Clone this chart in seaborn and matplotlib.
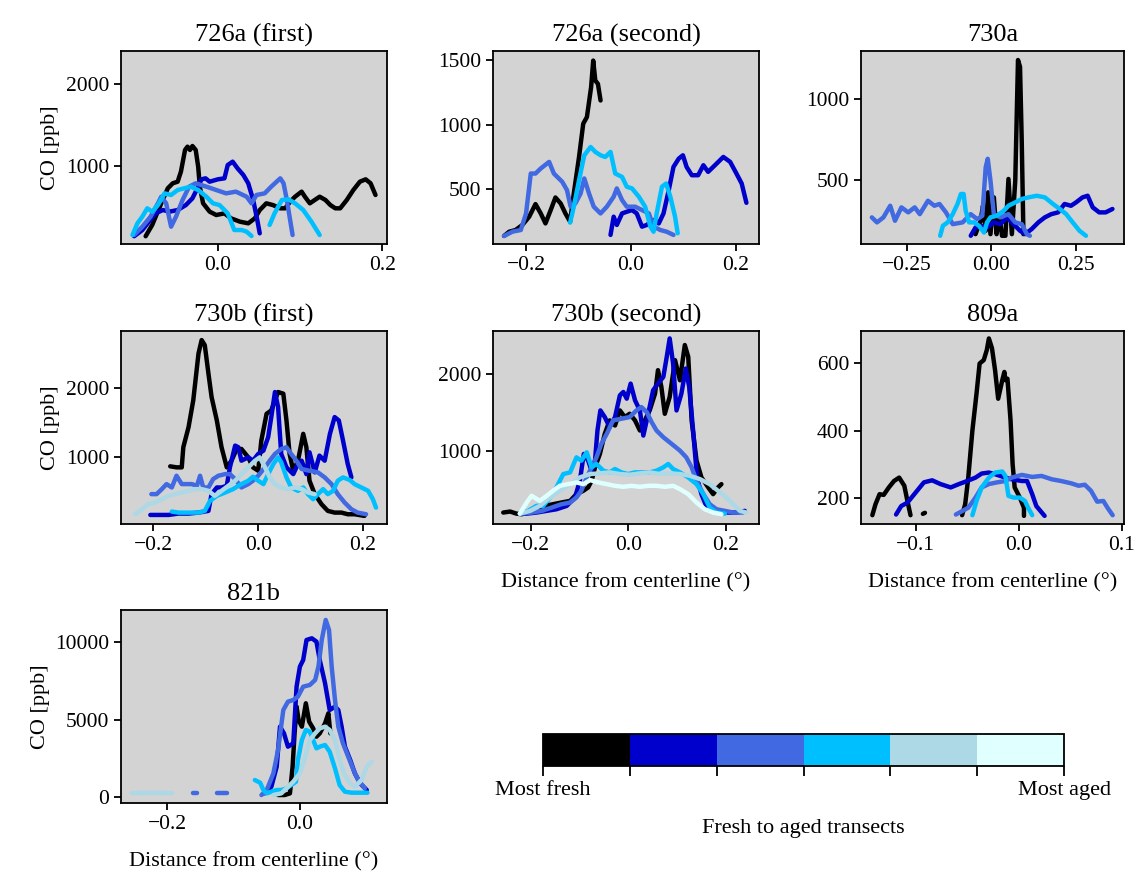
import numpy as np
import pandas as pd
import matplotlib
matplotlib.use("Agg")
import matplotlib.pyplot as plt
from matplotlib.colors import ListedColormap, BoundaryNorm
from matplotlib.cm import ScalarMappable
import seaborn as sns

# ---------------------------------------------------------------------------
# Transect colours, freshest to most aged
transect_colors = ["black", "mediumblue", "royalblue", "deepskyblue", "lightblue", "lightcyan"]
colorbar_ticklabels = ["Most fresh", "", "", "", "", "", "Most aged"]

N = None  # gap between separate pieces of a transect

# ---- 726a (first) ---------------------------------------------------------
f726a1_t0_x = [-0.088, -0.080, -0.069, -0.061, -0.055, -0.049, -0.045, -0.040, -0.037, -0.034, -0.031, -0.027, -0.024, -0.022, -0.018, -0.010, -0.002, 0.008, 0.016, 0.027, 0.037, 0.045, 0.051, 0.059, 0.067, 0.076, 0.082, 0.088, 0.094, 0.102, 0.106, 0.112, 0.118, 0.124, 0.131, 0.137, 0.143, 0.149, 0.157, 0.165, 0.173, 0.180, 0.186, 0.192]
f726a1_t0_y = [140, 278, 543, 727, 788, 808, 931, 1196, 1237, 1196, 1245, 1196, 992, 747, 543, 441, 400, 420, 359, 318, 298, 359, 461, 543, 522, 482, 482, 563, 624, 686, 624, 543, 584, 624, 584, 522, 482, 482, 584, 706, 808, 837, 788, 645]
f726a1_t1_x = [-0.102, -0.092, -0.084, -0.076, -0.067, -0.059, -0.049, -0.039, -0.031, -0.024, -0.020, -0.015, -0.010, 0.000, 0.008, 0.012, 0.018, 0.024, 0.031, 0.037, 0.043, 0.048, 0.051]
f726a1_t1_y = [140, 216, 318, 420, 461, 441, 461, 522, 604, 747, 837, 849, 808, 837, 849, 1012, 1053, 971, 890, 788, 584, 339, 176]
f726a1_t2_x = [-0.102, -0.092, -0.082, -0.073, -0.069, -0.063, -0.057, -0.051, -0.043, -0.035, -0.027, -0.014, -0.002, 0.010, 0.022, 0.035, 0.041, 0.047, 0.057, 0.065, 0.076, 0.080, 0.084, 0.088, 0.091]
f726a1_t2_y = [155, 257, 380, 543, 624, 543, 257, 380, 584, 747, 788, 747, 706, 665, 686, 624, 543, 645, 665, 747, 849, 788, 584, 339, 155]
f726a1_t3_x = [-0.104, -0.098, -0.092, -0.086, -0.080, -0.073, -0.065, -0.057, -0.049, -0.041, -0.033, -0.024, -0.014, -0.006, 0.002, 0.012, 0.020, 0.029, 0.035, 0.041, N, 0.063, 0.069, 0.078, 0.086, 0.094, 0.104, 0.114, 0.124]
f726a1_t3_y = [155, 298, 380, 482, 441, 522, 665, 645, 706, 727, 747, 706, 624, 543, 522, 420, 216, 216, 196, 143, N, 278, 420, 584, 592, 543, 461, 318, 155]

# ---- 726a (second) --------------------------------------------------------
f726a2_t0_x = [-0.242, -0.232, -0.220, -0.207, -0.194, -0.182, -0.172, -0.163, -0.153, -0.144, -0.134, -0.125, -0.116, -0.109, -0.099, -0.091, -0.084, -0.076, -0.072, -0.068, -0.063, -0.058]
f726a2_t0_y = [141, 174, 187, 226, 290, 387, 315, 238, 341, 438, 392, 315, 251, 469, 751, 1008, 1059, 1290, 1495, 1341, 1315, 1187]
f726a2_t1_x = [-0.039, -0.033, -0.027, -0.017, -0.008, 0.002, 0.011, 0.021, 0.030, 0.043, 0.053, 0.062, 0.072, 0.081, 0.091, 0.099, 0.106, 0.116, 0.128, 0.138, 0.147, 0.160, 0.176, 0.189, 0.201, 0.211, 0.220]
f726a2_t1_y = [149, 290, 226, 315, 328, 341, 315, 213, 226, 264, 238, 315, 495, 674, 738, 764, 674, 610, 610, 687, 636, 687, 751, 713, 623, 546, 397]
f726a2_t2_x = [-0.242, -0.226, -0.210, -0.200, -0.191, -0.182, -0.172, -0.156, -0.147, -0.131, -0.122, -0.115, -0.106, -0.096, -0.089, -0.080, -0.071, -0.058, -0.046, -0.033, -0.027, -0.017, -0.008, 0.008, 0.021, 0.034, 0.043, 0.056, 0.068, 0.081]
f726a2_t2_y = [141, 174, 187, 315, 623, 623, 662, 713, 623, 559, 495, 367, 392, 469, 585, 469, 367, 315, 367, 444, 508, 418, 367, 367, 341, 315, 213, 187, 174, 149]
f726a2_t3_x = [-0.116, -0.109, -0.099, -0.089, -0.077, -0.068, -0.058, -0.049, -0.039, -0.030, -0.017, -0.008, 0.002, 0.015, 0.027, 0.037, 0.043, 0.049, 0.059, 0.067, 0.075, 0.084, 0.089]
f726a2_t3_y = [244, 367, 572, 764, 828, 790, 764, 751, 790, 623, 597, 521, 508, 444, 367, 213, 174, 315, 521, 546, 444, 290, 162]

# ---- 730a -----------------------------------------------------------------
f730a_t0_x = [-0.047, -0.032, -0.025, -0.017, -0.010, -0.003, 0.007, 0.015, 0.023, 0.031, 0.041, 0.050, 0.060, 0.070, 0.078, 0.084, 0.089, 0.094]
f730a_t0_y = [164, 247, 340, 185, 423, 164, 392, 164, 288, 154, 154, 506, 164, 496, 1243, 1201, 745, 164]
f730a_t1_x = [-0.061, -0.047, -0.032, -0.013, 0.007, 0.026, 0.046, 0.065, 0.084, 0.099, 0.118, 0.138, 0.157, 0.176, 0.196, 0.215, 0.234, 0.249, 0.268, 0.283, 0.298, 0.317, 0.336, 0.356]
f730a_t1_y = [154, 205, 216, 205, 237, 226, 268, 226, 185, 164, 195, 237, 268, 288, 299, 351, 340, 361, 392, 402, 330, 299, 299, 320]
f730a_t2_x = [-0.352, -0.337, -0.318, -0.298, -0.284, -0.265, -0.245, -0.226, -0.211, -0.187, -0.168, -0.153, -0.134, -0.114, -0.085, -0.061, -0.042, -0.027, -0.017, -0.011, -0.003, 0.007, 0.026, 0.050, 0.070, 0.089, 0.104, 0.113]
f730a_t2_y = [268, 237, 268, 340, 247, 330, 299, 330, 288, 371, 340, 351, 299, 226, 237, 288, 257, 278, 579, 631, 496, 288, 268, 288, 237, 226, 164, 154]
f730a_t3_x = [-0.151, -0.143, -0.129, -0.114, -0.100, -0.090, -0.082, -0.076, -0.066, -0.051, -0.037, -0.022, -0.013, -0.003, 0.016, 0.036, 0.050, 0.070, 0.089, 0.109, 0.133, 0.157, 0.181, 0.201, 0.220, 0.239, 0.259, 0.278]
f730a_t3_y = [154, 216, 237, 288, 351, 413, 413, 309, 237, 237, 216, 174, 237, 268, 278, 309, 340, 361, 382, 392, 402, 392, 351, 320, 288, 237, 185, 154]

# ---- 730b (first) ---------------------------------------------------------
f730b1_t0_x = [-0.168, -0.156, -0.146, -0.143, -0.133, -0.124, -0.114, -0.108, -0.102, -0.095, -0.089, -0.079, -0.070, -0.060, -0.051, -0.041, -0.032, -0.019, -0.010, 0.000, 0.006, 0.016, 0.025, 0.032, 0.038, 0.048, 0.054, 0.060, 0.067, 0.076, 0.086, 0.092, 0.098, 0.108, 0.121, 0.133, 0.146, 0.159, 0.171, 0.184, 0.203]
f730b1_t0_y = [859, 844, 844, 1137, 1429, 1820, 2502, 2698, 2624, 2210, 1868, 1527, 1137, 844, 941, 1112, 1112, 990, 844, 795, 1234, 1624, 1673, 1820, 1941, 1917, 1527, 1039, 795, 941, 1332, 1137, 649, 454, 307, 210, 185, 185, 161, 161, 137]
f730b1_t1_x = [-0.206, -0.190, -0.171, -0.152, -0.133, -0.114, -0.095, -0.089, -0.079, -0.070, -0.060, -0.054, -0.044, -0.038, -0.032, -0.019, -0.010, 0.000, 0.010, 0.019, 0.025, 0.032, 0.038, 0.044, 0.054, 0.067, 0.076, 0.083, 0.092, 0.098, 0.108, 0.117, 0.127, 0.137, 0.146, 0.154, 0.162, 0.171, 0.178]
f730b1_t1_y = [151, 151, 151, 171, 171, 185, 210, 454, 551, 551, 576, 844, 1161, 1137, 941, 990, 941, 1039, 1088, 1283, 1576, 1941, 1722, 1039, 844, 746, 893, 941, 746, 1063, 771, 1015, 941, 1332, 1576, 1527, 1234, 893, 698]
f730b1_t2_x = [-0.204, -0.194, -0.184, -0.175, -0.165, -0.156, -0.146, -0.137, -0.127, -0.117, -0.111, -0.105, -0.095, -0.086, -0.076, -0.063, -0.054, -0.044, -0.032, -0.019, -0.010, 0.000, 0.013, 0.022, 0.032, 0.044, 0.054, 0.063, 0.073, 0.083, 0.098, 0.114, 0.127, 0.140, 0.152, 0.165, 0.178, 0.190, 0.206]
f730b1_t2_y = [454, 454, 527, 600, 551, 722, 600, 600, 600, 576, 722, 551, 551, 673, 722, 746, 746, 673, 551, 600, 649, 722, 844, 941, 1039, 1112, 1137, 1039, 941, 820, 795, 771, 698, 600, 454, 332, 234, 185, 161]
f730b1_t3_x = [-0.165, -0.152, -0.140, -0.127, -0.114, -0.102, -0.092, -0.079, -0.063, -0.048, -0.032, -0.019, -0.010, 0.000, 0.010, 0.019, 0.029, 0.038, 0.044, 0.054, 0.063, 0.076, 0.086, 0.095, 0.105, 0.114, 0.124, 0.133, 0.143, 0.152, 0.162, 0.175, 0.184, 0.197, 0.210, 0.219, 0.225]
f730b1_t3_y = [200, 185, 185, 185, 185, 210, 356, 429, 478, 527, 600, 649, 707, 649, 600, 746, 893, 990, 917, 698, 551, 502, 551, 454, 380, 454, 527, 454, 502, 649, 698, 659, 600, 551, 502, 380, 258]
f730b1_t4_x = [-0.235, -0.222, -0.210, -0.197, -0.184, -0.171, -0.159, -0.146, -0.133, -0.121, -0.108, -0.095, -0.083, -0.070, -0.057, -0.044, -0.032, -0.019, -0.006, 0.003, 0.013, 0.022, 0.032, 0.044, 0.057, 0.070, 0.083, 0.095, 0.108]
f730b1_t4_y = [161, 234, 307, 332, 380, 429, 454, 478, 502, 527, 527, 502, 429, 502, 576, 649, 746, 844, 941, 990, 844, 698, 600, 551, 527, 551, 527, 478, 454]

# ---- 730b (second) --------------------------------------------------------
f730b2_t0_x = [-0.256, -0.242, -0.229, -0.218, -0.205, -0.188, -0.171, -0.154, -0.137, -0.119, -0.106, -0.092, -0.082, -0.075, -0.068, -0.058, -0.048, -0.038, -0.027, -0.017, -0.007, 0.003, 0.014, 0.024, 0.034, 0.044, 0.055, 0.061, 0.068, 0.075, 0.085, 0.096, 0.106, 0.116, 0.123, 0.130, 0.140, 0.150, 0.164, 0.174, 0.184, 0.191]
f730b2_t0_y = [189, 202, 175, 167, 189, 254, 276, 298, 320, 342, 430, 474, 518, 605, 781, 956, 1219, 1395, 1329, 1526, 1439, 1482, 1395, 1263, 1395, 1526, 1746, 2053, 1833, 1482, 1702, 2184, 1921, 2382, 2228, 1395, 868, 649, 518, 430, 518, 561]
f730b2_t1_x = [-0.222, -0.208, -0.188, -0.167, -0.147, -0.126, -0.109, -0.099, -0.091, -0.082, -0.075, -0.068, -0.063, -0.057, -0.048, -0.038, -0.027, -0.017, -0.010, -0.003, 0.005, 0.014, 0.024, 0.031, 0.041, 0.051, 0.061, 0.072, 0.079, 0.085, 0.092, 0.099, 0.109, 0.118, 0.125, 0.133, 0.141, 0.150, 0.160, 0.171, 0.184, 0.201, 0.222, 0.239]
f730b2_t1_y = [175, 175, 189, 211, 232, 276, 386, 605, 956, 868, 737, 868, 1263, 1526, 1439, 1307, 1439, 1724, 1768, 1680, 1877, 1658, 1526, 1197, 1482, 1789, 1877, 1965, 2228, 2469, 2140, 1526, 1746, 2075, 1833, 1263, 649, 430, 276, 211, 189, 189, 189, 211]
f730b2_t2_x = [-0.218, -0.198, -0.177, -0.157, -0.137, -0.119, -0.106, -0.096, -0.085, -0.075, -0.065, -0.055, -0.044, -0.031, -0.014, 0.003, 0.017, 0.027, 0.038, 0.048, 0.058, 0.072, 0.089, 0.106, 0.119, 0.130, 0.140, 0.154, 0.167, 0.181, 0.198, 0.215, 0.235]
f730b2_t2_y = [175, 189, 211, 254, 298, 320, 386, 474, 649, 781, 912, 1088, 1219, 1395, 1417, 1439, 1526, 1570, 1504, 1373, 1263, 1175, 1088, 1000, 912, 781, 605, 430, 298, 232, 211, 189, 189]
f730b2_t3_x = [-0.222, -0.205, -0.188, -0.174, -0.160, -0.147, -0.133, -0.119, -0.106, -0.096, -0.085, -0.075, -0.065, -0.051, -0.038, -0.027, -0.014, 0.000, 0.014, 0.027, 0.044, 0.058, 0.072, 0.082, 0.092, 0.106, 0.123, 0.140, 0.154, 0.167, 0.181, 0.198]
f730b2_t3_y = [175, 211, 276, 276, 386, 518, 693, 715, 912, 868, 978, 781, 825, 737, 715, 759, 715, 693, 715, 715, 715, 737, 781, 825, 759, 715, 649, 561, 430, 254, 189, 175]
f730b2_t4_x = [-0.222, -0.201, -0.181, -0.160, -0.140, -0.119, -0.099, -0.078, -0.058, -0.038, -0.017, 0.003, 0.024, 0.044, 0.065, 0.085, 0.106, 0.126, 0.147, 0.167, 0.184, 0.201, 0.215, 0.229, 0.242]
f730b2_t4_y = [175, 211, 276, 386, 474, 561, 649, 693, 702, 715, 693, 684, 702, 715, 693, 702, 693, 671, 627, 561, 474, 386, 298, 211, 189]
f730b2_t5_x = [-0.222, -0.208, -0.198, -0.181, -0.167, -0.154, -0.140, -0.123, -0.106, -0.092, -0.078, -0.061, -0.044, -0.027, -0.010, 0.007, 0.024, 0.041, 0.058, 0.075, 0.092, 0.106, 0.123, 0.140, 0.157, 0.174, 0.191]
f730b2_t5_y = [175, 320, 408, 342, 408, 474, 539, 561, 583, 561, 614, 583, 561, 539, 526, 539, 526, 539, 539, 526, 539, 496, 430, 320, 232, 189, 167]

# ---- 809a -----------------------------------------------------------------
f809a_t0_x = [-0.142, -0.139, -0.135, -0.131, -0.126, -0.121, -0.116, -0.111, -0.108, -0.105, N, -0.093, -0.091, N, -0.055, -0.052, -0.049, -0.045, -0.041, -0.038, -0.034, -0.031, -0.029, -0.026, -0.023, -0.020, -0.016, -0.014, -0.013, -0.011, -0.008, -0.006, -0.004, 0.001, 0.005, 0.005]
f809a_t0_y = [150, 182, 212, 210, 232, 251, 261, 237, 192, 150, N, 154, 157, N, 150, 182, 261, 400, 509, 598, 608, 638, 672, 643, 578, 494, 549, 573, 549, 553, 430, 301, 232, 202, 172, 148]
f809a_t1_x = [-0.119, -0.114, -0.108, -0.100, -0.092, -0.084, -0.076, -0.066, -0.058, -0.050, -0.042, -0.036, -0.029, -0.023, -0.013, -0.007, 0.003, 0.008, 0.013, 0.017, 0.025]
f809a_t1_y = [152, 177, 187, 217, 247, 253, 242, 232, 242, 251, 261, 273, 276, 271, 261, 256, 251, 251, 212, 177, 148]
f809a_t2_x = [-0.061, -0.055, -0.049, -0.042, -0.036, -0.029, -0.021, -0.013, -0.007, 0.003, 0.013, 0.022, 0.032, 0.041, 0.051, 0.058, 0.064, 0.070, 0.076, 0.082, 0.086, 0.091]
f809a_t2_y = [152, 162, 172, 202, 232, 242, 247, 251, 261, 269, 263, 266, 256, 251, 244, 237, 240, 222, 190, 192, 172, 150]
f809a_t3_x = [-0.045, -0.041, -0.036, -0.029, -0.023, -0.016, -0.013, -0.010, -0.005, 0.001, 0.006, 0.009, 0.013]
f809a_t3_y = [150, 192, 232, 261, 276, 279, 266, 207, 202, 202, 192, 172, 150]

# ---- 821b -----------------------------------------------------------------
f821b_t0_x = [-0.033, -0.023, -0.015, -0.011, -0.008, -0.005, -0.002, 0.003, 0.009, 0.014, 0.020, 0.025, 0.030, 0.038, 0.043, 0.046]
f821b_t0_y = [108, 108, 216, 1944, 4104, 5832, 4968, 4536, 6048, 4860, 4428, 3888, 4104, 4752, 5400, 4104]
f821b_t1_x = [-0.053, -0.043, -0.035, -0.030, -0.024, -0.018, -0.010, -0.005, 0.000, 0.005, 0.010, 0.018, 0.025, 0.030, 0.038, 0.045, 0.053, 0.058, 0.063, 0.068, 0.076, 0.083, 0.091, 0.101]
f821b_t1_y = [216, 648, 1944, 4536, 4104, 3240, 3456, 7127, 8423, 8855, 10151, 10259, 10043, 8855, 7343, 5616, 5832, 5616, 4536, 3240, 2376, 1512, 864, 432]
f821b_t2_x = [-0.162, -0.156, N, -0.125, -0.110, N, -0.058, -0.050, -0.040, -0.033, -0.025, -0.018, -0.010, -0.003, 0.005, 0.015, 0.023, 0.028, 0.033, 0.039, 0.044, 0.048, 0.053, 0.058, 0.065, 0.073, 0.081, 0.088, 0.098]
f821b_t2_y = [240, 240, N, 240, 240, N, 108, 432, 1512, 3024, 5616, 6156, 6264, 6480, 7127, 7235, 7559, 8423, 10151, 11447, 10799, 8423, 6264, 4536, 3456, 2592, 1728, 1080, 540]
f821b_t3_x = [-0.068, -0.060, -0.055, -0.050, -0.043, -0.035, -0.028, -0.020, -0.013, -0.006, -0.003, 0.003, 0.009, 0.015, 0.020, 0.025, 0.030, 0.038, 0.045, 0.053, 0.060, 0.068, 0.078, 0.091, 0.102]
f821b_t3_y = [1080, 907, 432, 216, 324, 432, 432, 540, 756, 972, 2376, 3672, 4320, 4212, 3672, 3132, 3240, 3348, 2916, 1836, 756, 324, 259, 259, 259]
f821b_t4_x = [-0.254, -0.235, -0.215, -0.1935, N, -0.040, -0.028, -0.018, -0.010, 0.000, 0.008, 0.015, 0.023, 0.030, 0.038, 0.045, 0.053, 0.060, 0.068, 0.076, 0.083, 0.093, 0.101, 0.108]
f821b_t4_y = [220, 220, 220, 220, N, 108, 216, 648, 972, 1512, 2592, 3672, 4104, 4428, 4536, 4320, 3672, 2376, 1404, 864, 648, 1080, 1944, 2268]

panel_titles = ["726a (first)", "726a (second)", "730a", "730b (first)",
                "730b (second)", "809a", "821b"]
panel_series = [
    [(f726a1_t0_x, f726a1_t0_y), (f726a1_t1_x, f726a1_t1_y), (f726a1_t2_x, f726a1_t2_y), (f726a1_t3_x, f726a1_t3_y)],
    [(f726a2_t0_x, f726a2_t0_y), (f726a2_t1_x, f726a2_t1_y), (f726a2_t2_x, f726a2_t2_y), (f726a2_t3_x, f726a2_t3_y)],
    [(f730a_t0_x, f730a_t0_y), (f730a_t1_x, f730a_t1_y), (f730a_t2_x, f730a_t2_y), (f730a_t3_x, f730a_t3_y)],
    [(f730b1_t0_x, f730b1_t0_y), (f730b1_t1_x, f730b1_t1_y), (f730b1_t2_x, f730b1_t2_y), (f730b1_t3_x, f730b1_t3_y), (f730b1_t4_x, f730b1_t4_y)],
    [(f730b2_t0_x, f730b2_t0_y), (f730b2_t1_x, f730b2_t1_y), (f730b2_t2_x, f730b2_t2_y), (f730b2_t3_x, f730b2_t3_y), (f730b2_t4_x, f730b2_t4_y), (f730b2_t5_x, f730b2_t5_y)],
    [(f809a_t0_x, f809a_t0_y), (f809a_t1_x, f809a_t1_y), (f809a_t2_x, f809a_t2_y), (f809a_t3_x, f809a_t3_y)],
    [(f821b_t0_x, f821b_t0_y), (f821b_t1_x, f821b_t1_y), (f821b_t2_x, f821b_t2_y), (f821b_t3_x, f821b_t3_y), (f821b_t4_x, f821b_t4_y)],
]

# Axis ranges and ticks per panel
panel_xlims = [(-0.118, 0.206), (-0.263, 0.244), (-0.384, 0.39), (-0.262, 0.246),
               (-0.277, 0.268), (-0.153, 0.102), (-0.27, 0.1315)]
panel_ylims = [(45, 2408), (79, 1569), (103, 1299), (19, 2830),
               (39, 2566), (124, 694), (-408, 12092)]
panel_xticks = [[0.0, 0.2], [-0.2, 0.0, 0.2], [-0.25, 0.0, 0.25], [-0.2, 0.0, 0.2],
                [-0.2, 0.0, 0.2], [-0.1, 0.0, 0.1], [-0.2, 0.0]]
panel_yticks = [[1000, 2000], [500, 1000, 1500], [500, 1000], [1000, 2000],
                [1000, 2000], [200, 400, 600], [0, 5000, 10000]]


def to_long(series):
    """Long-form table; a None splits one transect into separate pieces."""
    rows = []
    for t, (xs, ys) in enumerate(series):
        piece = 0
        for x, y in zip(xs, ys):
            if x is None:
                piece += 1
                continue
            rows.append({"transect": t, "piece": f"{t}-{piece}", "x": x, "y": y})
    return pd.DataFrame(rows)


sns.set_theme(style="ticks")
plt.rcParams["font.family"] = ["Liberation Serif", "DejaVu Serif"]
plt.rcParams["text.color"] = "black"
plt.rcParams["axes.labelcolor"] = "black"
plt.rcParams["axes.titlecolor"] = "black"
plt.rcParams["axes.facecolor"] = "lightgray"
plt.rcParams["axes.edgecolor"] = "black"
plt.rcParams["axes.linewidth"] = 1.3
plt.rcParams["xtick.color"] = "black"
plt.rcParams["ytick.color"] = "black"
plt.rcParams["xtick.labelcolor"] = "black"
plt.rcParams["ytick.labelcolor"] = "black"
plt.rcParams["xtick.major.width"] = 1.3
plt.rcParams["ytick.major.width"] = 1.3
plt.rcParams["xtick.major.size"] = 5
plt.rcParams["ytick.major.size"] = 5

fig = plt.figure(figsize=(11.38, 8.75), dpi=100)

W, H = 1138, 875
col_left = [121, 493, 861]
col_width = [266, 266, 263]
row_top = [51, 331, 610]
ax_h = 193
positions = [(0, 0), (0, 1), (0, 2), (1, 0), (1, 1), (1, 2), (2, 0)]
xlabel_panels = {4, 5, 6}

for i, (r, c) in enumerate(positions):
    rect = [col_left[c] / W, 1 - (row_top[r] + ax_h) / H, col_width[c] / W, ax_h / H]
    ax = fig.add_axes(rect)
    df = to_long(panel_series[i])
    pal = {t: transect_colors[t] for t in df["transect"].unique()}
    sns.lineplot(data=df, x="x", y="y", hue="transect", units="piece",
                 estimator=None, sort=False, palette=pal, linewidth=3.2,
                 legend=False, ax=ax)
    ax.set_xlim(*panel_xlims[i])
    ax.set_ylim(*panel_ylims[i])
    ax.set_xticks(panel_xticks[i])
    ax.set_yticks(panel_yticks[i])
    ax.tick_params(labelsize=15.5)
    ax.set_title(panel_titles[i], fontsize=19, pad=7)
    ax.set_xlabel("Distance from centerline (°)" if i in xlabel_panels else "",
                  fontsize=16, labelpad=13)
    ax.set_ylabel("CO [ppb]" if c == 0 else "", fontsize=16)
    for s in ax.spines.values():
        s.set_color("black")

# Discrete colour bar: fresh to aged transects
cax = fig.add_axes([543 / W, 1 - 766 / H, 521 / W, 32 / H])
cmap = ListedColormap(transect_colors)
norm = BoundaryNorm(np.arange(len(transect_colors) + 1), cmap.N)
cb = fig.colorbar(ScalarMappable(norm=norm, cmap=cmap), cax=cax,
                  orientation="horizontal", ticks=np.arange(len(transect_colors) + 1))
cb.ax.set_xticklabels(colorbar_ticklabels)
cb.ax.tick_params(labelsize=16, length=7, width=1.3)
cb.set_label("Fresh to aged transects", fontsize=16, labelpad=14)
cb.outline.set_linewidth(1.3)
cb.outline.set_edgecolor("black")

fig.savefig("out.png", dpi=100, facecolor="white")
